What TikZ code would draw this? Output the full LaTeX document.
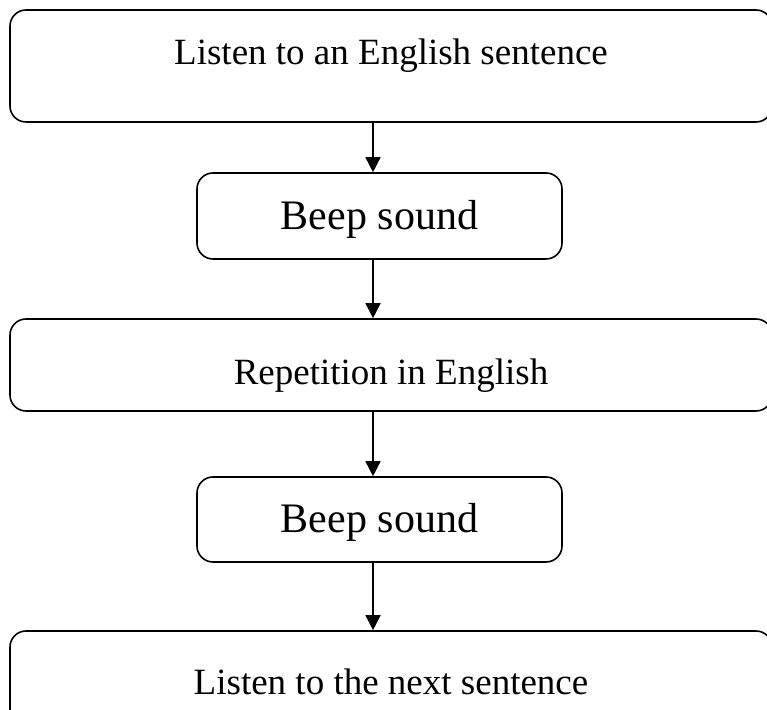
\documentclass[tikz,border=0pt]{standalone}
\usepackage{fontspec}
\setmainfont{Liberation Serif}
\usetikzlibrary{arrows.meta}

\tikzset{
  stage/.style={draw, line width=0.8pt, rounded corners=8pt, inner sep=0pt},
  wide/.style={stage, minimum width=381pt},
  narrow/.style={stage, minimum width=182.5pt},
  caption/.style={anchor=base, inner sep=0pt, font=\fontsize{18.5}{22}\selectfont},
  bigcaption/.style={anchor=base, inner sep=0pt, font=\fontsize{21}{25}\selectfont},
  flow/.style={line width=0.8pt, -{Triangle[length=7.5pt,width=7.5pt]}}
}

\begin{document}
\begin{tikzpicture}[x=0.5pt, y=-0.5pt]
      \useasboundingbox (0,0) rectangle (767,710);
      % Boxes
      \node[wide, minimum height=56pt] (listen) at (391,66) {};
      \node[narrow, minimum height=43pt] (beepa) at (379.5,216) {};
      \node[wide, minimum height=46pt] (repeat) at (391,365) {};
      \node[narrow, minimum height=42.5pt] (beepb) at (379.5,519.5) {};
      \node[wide, minimum height=55pt] (next) at (391,686) {};
      % Labels
      \node[caption] (listentext) at (391,65) {Listen to an English sentence};
      \node[bigcaption] (beepatext) at (379.5,230) {Beep sound};
      \node[caption] (repeattext) at (391,385) {Repetition in English};
      \node[bigcaption] (beepbtext) at (379.5,533) {Beep sound};
      \node[caption] (nexttext) at (391,695) {Listen to the next sentence};
      % Arrows
      \coordinate (spine) at (373,0);
      \draw[flow] (listen.south -| spine) -- (beepa.north -| spine);
      \draw[flow] (beepa.south -| spine) -- (repeat.north -| spine);
      \draw[flow] (repeat.south -| spine) -- (beepb.north -| spine);
      \draw[flow] (beepb.south -| spine) -- (next.north -| spine);
    \end{tikzpicture}
\end{document}
